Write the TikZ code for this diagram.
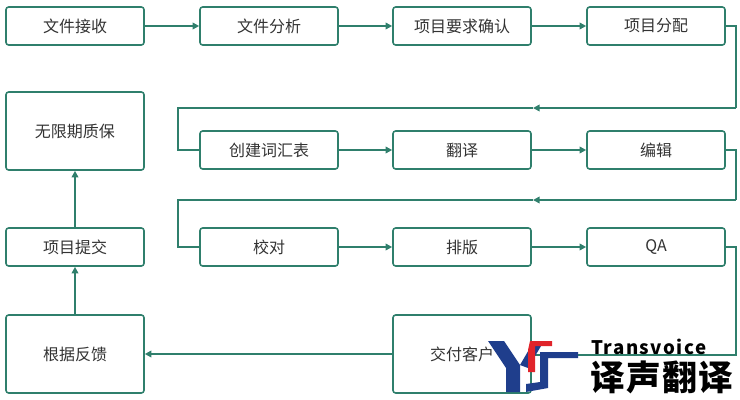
\documentclass[tikz,border=0pt]{standalone}
\usepackage{fontspec}
\setmainfont{Noto Sans CJK SC}
\usetikzlibrary{arrows.meta}
\definecolor{gr}{HTML}{2F7F6C}
\definecolor{lb}{HTML}{1F3E8C}
\definecolor{lr}{HTML}{E0242B}
\begin{document}
\begin{tikzpicture}[x=0.75pt,y=-0.75pt,
  box/.style={draw=gr,line width=1.2pt,rounded corners=2pt,minimum width=103.5pt,minimum height=28.5pt,inner sep=0pt,font=\fontsize{12}{14}\selectfont,text=black!80},
  tall/.style={box,minimum height=58.5pt},
  ln/.style={draw=gr,line width=1.2pt},
  ar/.style={ln,-{Triangle[length=5pt,width=5pt]}}]
\useasboundingbox (0,0) rectangle (740,400);
\node[box] (a1) at (75,26) {文件接收};
\node[box] (a2) at (269,26) {文件分析};
\node[box] (a3) at (462,26) {项目要求确认};
\node[box] (a4) at (656,26) {项目分配};
\node[tall] (w) at (75,131) {无限期质保};
\node[box] (b1) at (269,150) {创建词汇表};
\node[box] (b2) at (462,150) {翻译};
\node[box] (b3) at (656,150) {编辑};
\node[box] (t) at (75,247) {项目提交};
\node[box] (c1) at (269,247) {校对};
\node[box] (c2) at (462,247) {排版};
\node[box] (c3) at (656,247) {QA};
\node[tall] (f) at (75,354) {根据反馈};
\node[tall] (d) at (462,354) {交付客户};
\draw[ar] (a1) -- (a2);
\draw[ar] (a2) -- (a3);
\draw[ar] (a3) -- (a4);
\draw[ar] (b1) -- (b2);
\draw[ar] (b2) -- (b3);
\draw[ar] (c1) -- (c2);
\draw[ar] (c2) -- (c3);
\coordinate (r1) at (736,108); \coordinate (m1) at (533,108); \coordinate (l1) at (178,108);
\draw[ln] (a4.east) -| (r1);
\draw[ar] (r1) -- (m1);
\draw[ln] (m1) -- (l1) |- (b1.west);
\coordinate (r2) at (736,200); \coordinate (m2) at (533,200); \coordinate (l2) at (178,200);
\draw[ln] (b3.east) -| (r2);
\draw[ar] (r2) -- (m2);
\draw[ln] (m2) -- (l2) |- (c1.west);
\coordinate (r3) at (736,355);
\draw[ln] (c3.east) -| (r3) -- (d.east |- r3);
\draw[ar] (d) -- (f);
\draw[ar] (f) -- (t);
\draw[ar] (t) -- (w);
% logo
\fill[lb] (488,341) -- (504,341) -- (520,365) -- (520,392) -- (506,392) -- (506,368) -- cycle;
\fill[lb] (520,365) -- (534,341) -- (544,341) -- (528,368) -- cycle;
\fill[lr] (530,341) -- (552,341) -- (552,346) -- (535,346) -- (535,372) -- (528,372) -- (528,350) -- cycle;
\fill[lb] (540,352) -- (578,352) -- (578,358) -- (548,358) -- (548,388) -- (526,392) -- (526,384) -- (540,382) -- cycle;
\node[anchor=west,inner sep=0pt,font=\fontsize{14}{14}\selectfont\bfseries] (tv) at (591,347) {\addfontfeature{LetterSpace=8}Transvoice};
\node[anchor=west,inner sep=0pt,font=\fontsize{26}{26}\selectfont\bfseries] (cn) at (590,377) {\addfontfeature{LetterSpace=4}译声翻译};
\end{tikzpicture}
\end{document}
